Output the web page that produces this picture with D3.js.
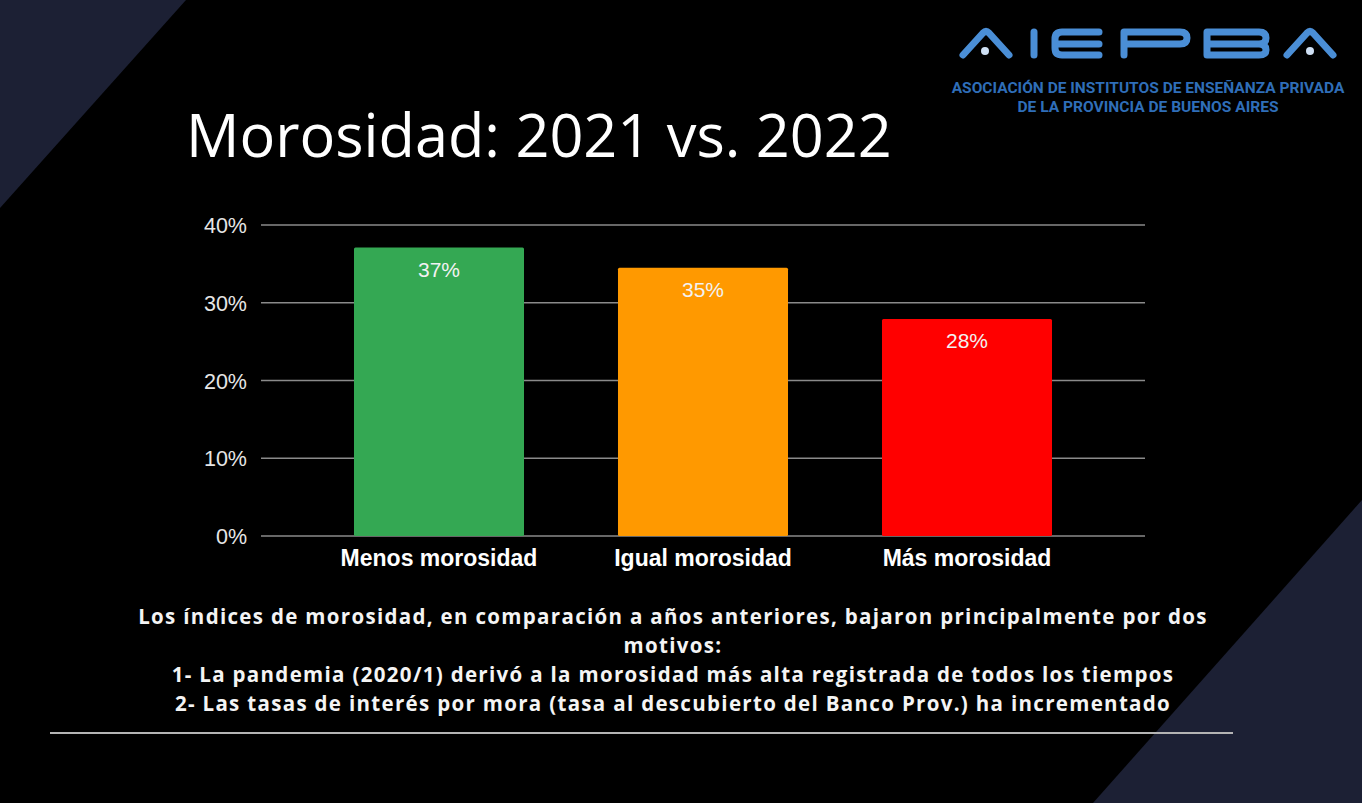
<!DOCTYPE html>
<html>
<head>
<meta charset="utf-8">
<script src="https://cdn.jsdelivr.net/npm/d3@7"></script>
<style>
  html, body { margin: 0; padding: 0; background: #000; }
  svg { display: block; }
</style>
</head>
<body>
<div id="chart"></div>
<script>
var categories = ["Menos morosidad", "Igual morosidad", "Más morosidad"];
var values = [37.1, 34.5, 27.9];
var valueLabels = ["37%", "35%", "28%"];
var barColors = ["#34a853", "#ff9900", "#ff0000"];
var yTicks = [0, 10, 20, 30, 40];
var titleText = "Morosidad: 2021 vs. 2022";
var noteLines = [
  "Los índices de morosidad, en comparación a años anteriores, bajaron principalmente por dos",
  "motivos:",
  "1- La pandemia (2020/1) derivó a la morosidad más alta registrada de todos los tiempos",
  "2- Las tasas de interés por mora (tasa al descubierto del Banco Prov.) ha incrementado"
];
var logoSub = ["ASOCIACIÓN DE INSTITUTOS DE ENSEÑANZA PRIVADA", "DE LA PROVINCIA DE BUENOS AIRES"];

var W = 1362, H = 803;
var svg = d3.select("#chart").append("svg").attr("width", W).attr("height", H);

// background
svg.append("rect").attr("width", W).attr("height", H).attr("fill", "#000");
svg.append("path").attr("d", "M0,0 L186,0 L0,208 Z").attr("fill", "#1c2034");
svg.append("path").attr("d", "M1362,500 L1362,803 L1093,803 Z").attr("fill", "#1c2034");

// fit text to a target width by scaling its font-size
function fitWidth(sel, target) {
  var fs = +sel.attr("font-size");
  var len = sel.node().getComputedTextLength();
  sel.attr("font-size", (fs * target / len).toFixed(2));
  return sel;
}

// logo
var logo = svg.append("g")
  .attr("fill", "none")
  .attr("stroke", "#4a8ed6")
  .attr("stroke-width", 7)
  .attr("stroke-linecap", "round")
  .attr("stroke-linejoin", "round");
logo.append("path").attr("d", "M963,55 L983,33 Q986,30 989,33 L1009,55");
logo.append("path").attr("d", "M1034,32 L1034,55");
logo.append("path").attr("d", "M1099,32 L1062,32 Q1055,32 1055,39 L1055,48 Q1055,55 1062,55 L1099,55 M1056,44 L1099,44");
logo.append("path").attr("d", "M1124,55 L1124,32 L1180,32 Q1187,32 1187,38 Q1187,44 1180,44 L1126,44");
logo.append("path").attr("d", "M1207,55 L1207,32 L1259,32 Q1266,32 1266,38 Q1266,44 1259,44 Q1266,44 1266,50 Q1266,55 1259,55 L1207,55 M1207,44 L1259,44");
logo.append("path").attr("d", "M1287,55 L1307,33 Q1310,30 1313,33 L1333,55");
svg.append("circle").attr("cx", 985).attr("cy", 51).attr("r", 4).attr("fill", "#cfe0f4");
svg.append("circle").attr("cx", 1310).attr("cy", 51).attr("r", 4).attr("fill", "#cfe0f4");

var sub1 = svg.append("text").attr("x", 1148).attr("y", 93).attr("text-anchor", "middle")
  .attr("font-family", "'Liberation Sans Narrow', 'Roboto', sans-serif").attr("font-weight", "bold")
  .attr("font-size", 14).attr("fill", "#2f6eb8").text(logoSub[0]);
fitWidth(sub1, 393);
var sub2 = svg.append("text").attr("x", 1148).attr("y", 112).attr("text-anchor", "middle")
  .attr("font-family", "'Liberation Sans Narrow', 'Roboto', sans-serif").attr("font-weight", "bold")
  .attr("font-size", 14).attr("fill", "#2f6eb8").text(logoSub[1]);
fitWidth(sub2, 261);

// title
var title = svg.append("text").attr("x", 186).attr("y", 157)
  .attr("font-family", "'Open Sans', 'Noto Sans', sans-serif")
  .attr("font-size", 56).attr("fill", "#fff").text(titleText);
fitWidth(title, 706);

// chart
var gridX0 = 261, gridX1 = 1145;
var x = d3.scaleBand().domain(categories).range([307, 1099]).paddingInner(0.356).paddingOuter(0.178);
var y = d3.scaleLinear().domain([0, 40]).range([536, 225]);

var grid = svg.append("g");
grid.selectAll("line").data(yTicks).enter().append("line")
  .attr("x1", gridX0).attr("x2", gridX1)
  .attr("y1", function(d) { return y(d); })
  .attr("y2", function(d) { return y(d); })
  .attr("stroke", "#8a8a8a").attr("stroke-width", 1.5);

var yAxis = d3.axisLeft(y).tickValues(yTicks).tickSize(0).tickPadding(0)
  .tickFormat(function(d) { return d + "%"; });
var gy = svg.append("g").attr("transform", "translate(247,0)").call(yAxis);
gy.select(".domain").remove();
gy.selectAll("text").attr("fill", "#e6e6e6").attr("font-size", 21.5)
  .attr("font-family", "'Liberation Sans', Arial, sans-serif").attr("dy", "0.35em");

svg.selectAll("rect.bar").data(values).enter().append("rect")
  .attr("class", "bar")
  .attr("x", function(d, i) { return x(categories[i]); })
  .attr("width", x.bandwidth())
  .attr("y", function(d) { return y(d); })
  .attr("height", function(d) { return y(0) - y(d); })
  .attr("rx", 1.5)
  .attr("fill", function(d, i) { return barColors[i]; });

svg.selectAll("text.vlab").data(values).enter().append("text")
  .attr("class", "vlab")
  .attr("x", function(d, i) { return x(categories[i]) + x.bandwidth() / 2; })
  .attr("y", function(d) { return y(d) + 29; })
  .attr("text-anchor", "middle")
  .attr("font-family", "'Liberation Sans', Arial, sans-serif")
  .attr("font-size", 21).attr("fill", "#f2f2f2")
  .text(function(d, i) { return valueLabels[i]; });

var xAxis = d3.axisBottom(x).tickSize(0).tickPadding(0);
var gx = svg.append("g").attr("transform", "translate(0,536)").call(xAxis);
gx.select(".domain").remove();
gx.selectAll("text").attr("fill", "#fff").attr("font-size", 23).attr("font-weight", "bold")
  .attr("font-family", "'Liberation Sans', Arial, sans-serif").attr("dy", "1.3em");

// notes: fixed size, letter-spacing stretched so the first line spans the reference width
var noteY = [624, 653, 682, 711];
var notes = svg.append("g");
noteLines.forEach(function(t, i) {
  notes.append("text").attr("x", 673).attr("y", noteY[i]).attr("text-anchor", "middle")
    .attr("font-family", "'Open Sans', 'Noto Sans', sans-serif").attr("font-weight", "bold")
    .attr("font-size", 20.5).attr("fill", "#f4f4f4").text(t);
});
var first = notes.select("text");
var ls = (1068 - first.node().getComputedTextLength()) / (noteLines[0].length - 1);
notes.selectAll("text").attr("letter-spacing", ls.toFixed(2));

svg.append("line").attr("x1", 50).attr("x2", 1233).attr("y1", 733).attr("y2", 733)
  .attr("stroke", "#b4b4b4").attr("stroke-width", 2);
</script>
</body>
</html>
